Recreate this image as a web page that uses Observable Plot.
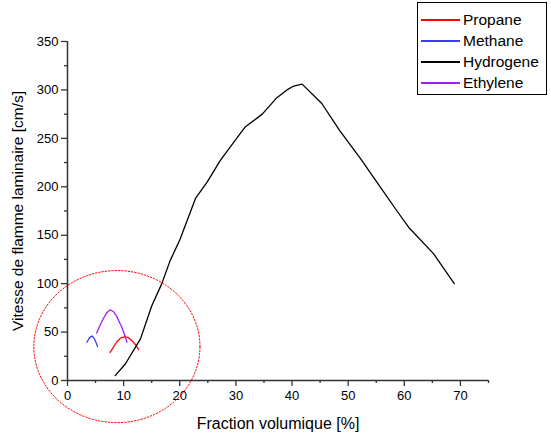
<!DOCTYPE html>
<html><head><meta charset="utf-8">
<script src="https://cdn.jsdelivr.net/npm/d3@7"></script>
<script src="https://cdn.jsdelivr.net/npm/@observablehq/plot@0.6"></script>
<style>
body{margin:0;background:#fff;font-family:"Liberation Sans",Arial,sans-serif;}
#wrap{position:relative;width:551px;height:436px;}
#legend{position:absolute;left:417px;top:2px;width:130px;height:93px;border:1px solid #000;box-sizing:border-box;background:#fff;}
.row{position:absolute;left:0;height:20px;font-size:15.5px;line-height:20px;color:#000;}
.row span.ln{position:absolute;left:3px;top:9px;width:39px;height:1.5px;}
.row span.tx{position:absolute;left:45px;top:0;white-space:nowrap;}
</style></head>
<body><div id="wrap"></div>
<script>
const seriesNames = ["Propane","Methane","Hydrogene","Ethylene"];
const seriesColors = ["#ff0000","#3b3bff","#000000","#a020f0"];
const propane = [[7.6,29],[8.8,40],[9.5,44],[10.1,45],[10.8,44.5],[11.5,41],[12.1,37],[12.7,32]];
const methane = [[3.45,39.5],[3.9,44],[4.35,46],[4.8,43],[5.1,39],[5.35,35]];
const hydrogene = [[8.5,5],[10.3,17],[13,43],[15,77],[16.8,100],[18.3,124],[20,145],[22.8,188],[24.9,205],[27.2,227],[29.5,245],[31.7,262],[34.7,275],[37.3,292],[39.1,300],[40.3,304],[41.8,306],[45.3,286],[48.5,258],[52.2,229],[55.7,200],[58.7,175],[60.8,158],[65.2,131],[68.9,100]];
const ethylene = [[5.2,49],[5.8,57],[6.4,64],[7,70],[7.6,73],[8.2,71],[8.7,67],[9.1,62],[9.6,56],[10,50],[10.3,45],[10.6,39.5]];
const xTicks = [0,10,20,30,40,50,60,70];
const xMinor = [5,15,25,35,45,55,65,75];
const yTicks = [0,50,100,150,200,250,300,350];
const yMinor = [25,75,125,175,225,275,325];
const xLabel = "Fraction volumique [%]";
const yLabel = "Vitesse de flamme laminaire [cm/s]";
// annotation ellipse: center x, center y, radius x, radius y (data units)
const ellipse = [8.8, 35, 14.8, 78.5];

const allSeries = [propane, methane, hydrogene, ethylene];
const rows = [];
allSeries.forEach((s,i)=>s.forEach(([x,y])=>rows.push({x,y,name:seriesNames[i]})));
const ell = d3.range(0,361,3).map(a=>({x:ellipse[0]+ellipse[2]*Math.cos(a*Math.PI/180), y:ellipse[1]+ellipse[3]*Math.sin(a*Math.PI/180)}));

const chart = Plot.plot({
  width:551, height:436,
  marginLeft:67, marginRight:63, marginTop:41, marginBottom:56,
  x:{domain:[0,75]}, y:{domain:[0,350]},
  color:{domain:seriesNames, range:seriesColors},
  style:{fontFamily:"'Liberation Sans', Arial, sans-serif", fontSize:"13px", color:"#000", background:"white", overflow:"visible"},
  marks:[
    Plot.axisX({ticks:xTicks, tickSize:6, tickPadding:4, label:null, fontSize:13, stroke:"#333", strokeWidth:1.3}),
    Plot.axisX({ticks:xMinor, tickSize:3, text:null, label:null, stroke:"#333", strokeWidth:1.3}),
    Plot.axisY({ticks:yTicks, tickSize:6, tickPadding:3, label:null, fontSize:13, stroke:"#333", strokeWidth:1.3}),
    Plot.axisY({ticks:yMinor, tickSize:3, text:null, label:null, stroke:"#333", strokeWidth:1.3}),
    Plot.ruleY([0], {stroke:"#333", strokeWidth:1.5}),
    Plot.ruleX([0], {stroke:"#333", strokeWidth:1.5}),
    Plot.line(rows, {x:"x", y:"y", z:"name", stroke:"name", strokeWidth:1.3}),
    Plot.line(ell, {x:"x", y:"y", stroke:"#ff0000", strokeWidth:1, strokeDasharray:"1.5,1.8", clip:false}),
    Plot.text([xLabel], {frameAnchor:"bottom", dy:43, lineAnchor:"middle", textAnchor:"middle", fontSize:16, text:d=>d}),
    Plot.text([yLabel], {frameAnchor:"left", dx:-49, rotate:-90, textAnchor:"middle", lineAnchor:"middle", fontSize:15.5, text:d=>d})
  ]
});
const wrap = document.getElementById("wrap");
wrap.appendChild(chart);
const leg = document.createElement("div");
leg.id = "legend";
seriesNames.forEach((n,i)=>{
  const r = document.createElement("div");
  r.className = "row";
  r.style.top = (7 + i*21) + "px";
  r.innerHTML = `<span class="ln" style="background:${seriesColors[i]};${i===1?'height:2.5px;top:8.5px;':''}"></span><span class="tx">${n}</span>`;
  leg.appendChild(r);
});
wrap.appendChild(leg);
</script></body></html>
